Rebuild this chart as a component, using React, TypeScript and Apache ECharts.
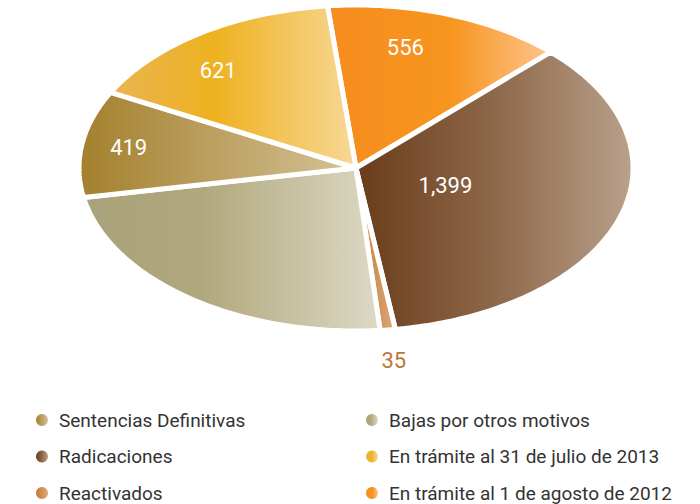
import React, { useEffect, useRef } from "react";
import * as echarts from "echarts";

// Slices in clockwise order starting near 12 o'clock
const categories = [
  "En trámite al 1 de agosto de 2012",
  "Radicaciones",
  "Reactivados",
  "Bajas por otros motivos",
  "Sentencias Definitivas",
  "En trámite al 31 de julio de 2013",
];
const values = [556, 1399, 35, 930, 419, 621];
const valueLabels = ["556", "1,399", "35", "", "419", "621"];

const legendLeft = ["Sentencias Definitivas", "Radicaciones", "Reactivados"];
const legendRight = [
  "Bajas por otros motivos",
  "En trámite al 31 de julio de 2013",
  "En trámite al 1 de agosto de 2012",
];

// styles
const gradStops: [number, string][][] = [
  [[0, "#f68c1e"], [0.55, "#f7951f"], [1, "#fec48e"]],
  [[0, "#693c19"], [0.5, "#8e684a"], [1, "#b9a18b"]],
  [[0, "#c07a35"], [1, "#dcaa78"]],
  [[0, "#a9a37b"], [0.4, "#b0a87d"], [1, "#ddd9c5"]],
  [[0, "#a3802c"], [1, "#d5c299"]],
  [[0, "#e9b454"], [0.42, "#eeb11f"], [1, "#f7d897"]],
];
// label placement: [angle offset from mid (deg), radius fraction]
const labelPlace: [number, number][] = [
  [-5.8, 0.76],
  [0, 0.34],
  [0, 1.19],
  [0, 0],
  [0, 0.83],
  [-5.5, 0.78],
];
const labelColor = ["#fff", "#fff", "#bd7735", "#fff", "#fff", "#fff"];

const CX = 356;
const CY = 168;
const RX = 277;
const RY = 163;
const START_DEG = -5.9;
const FONT = "Roboto, 'Liberation Sans', sans-serif";

function grad(i: number) {
  return new echarts.graphic.LinearGradient(
    0, 0, 1, 0,
    gradStops[i].map(([offset, color]) => ({ offset, color }))
  );
}

export default function App() {
  const ref = useRef<HTMLDivElement>(null);
  useEffect(() => {
    if (!ref.current) return;
    const chart = echarts.init(ref.current, undefined, { renderer: "svg" });
    const total = values.reduce((a, b) => a + b, 0);
    const cum: number[] = [];
    let acc = 0;
    values.forEach((v) => {
      cum.push(acc);
      acc += v;
    });

    const renderItem = (params: any, api: any) => {
      const idx = params.seriesIndex;
      const start = api.value(0) as number;
      const val = api.value(1) as number;
      const a0 = START_DEG + (start / total) * 360;
      const a1 = a0 + (val / total) * 360;
      const pts: number[][] = [[CX, CY]];
      const steps = Math.max(2, Math.ceil(a1 - a0));
      for (let k = 0; k <= steps; k++) {
        const a = ((a0 + ((a1 - a0) * k) / steps) * Math.PI) / 180;
        pts.push([CX + RX * Math.sin(a), CY - RY * Math.cos(a)]);
      }
      const [dA, rf] = labelPlace[idx];
      const la = ((((a0 + a1) / 2) + dA) * Math.PI) / 180;
      const lx = CX + RX * rf * Math.sin(la);
      const ly = CY - RY * rf * Math.cos(la);
      const children: any[] = [
        {
          type: "polygon",
          shape: { points: pts },
          style: { fill: grad(idx), stroke: "#ffffff", lineWidth: 5, lineJoin: "round" },
        },
      ];
      if (valueLabels[idx]) {
        children.push({
          type: "text",
          z2: 10,
          style: {
            text: valueLabels[idx],
            x: lx,
            y: ly,
            fill: labelColor[idx],
            font: `22px ${FONT}`,
            align: "center",
            verticalAlign: "middle",
          },
        });
      }
      return { type: "group", children };
    };

    const legendBase = {
      orient: "vertical",
      top: 410,
      height: 94,
      padding: 0,
      itemWidth: 12,
      itemHeight: 12,
      itemGap: 16.5,
      icon: "circle",
      selectedMode: false,
      textStyle: {
        fontSize: 19,
        color: "#333333",
        fontFamily: FONT,
        lineHeight: 20,
        padding: [0, 0, 0, 6],
      },
    };

    chart.setOption({
      animation: false,
      backgroundColor: "#ffffff",
      legend: [
        { ...legendBase, left: 36, data: legendLeft },
        { ...legendBase, left: 366, data: legendRight },
      ],
      series: categories.map((name, i) => ({
        type: "custom",
        name,
        coordinateSystem: "none",
        itemStyle: { color: grad(i) },
        data: [[cum[i], values[i]]],
        renderItem,
      })),
    });
    return () => chart.dispose();
  }, []);
  return (
    <div
      ref={ref}
      style={{ position: "fixed", left: 0, top: 0, width: 700, height: 504 }}
    />
  );
}
